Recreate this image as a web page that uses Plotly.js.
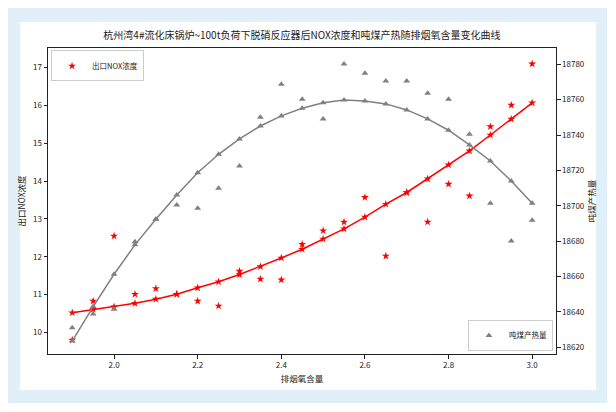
<!DOCTYPE html>
<html>
<head>
<meta charset="utf-8">
<script src="https://cdn.plot.ly/plotly-3.0.1.min.js"></script>
<style>
  html, body { margin: 0; padding: 0; background: #ffffff; }
  #frame { position: absolute; left: 8px; top: 8px; width: 599px; height: 395px; background: #e1f0f8; }
  #card { position: absolute; left: 20px; top: 22px; width: 576px; height: 368px; background: #ffffff; }
  #chart { position: absolute; left: 0; top: 0; width: 616px; height: 412px; }
</style>
</head>
<body>
<div id="frame"></div>
<div id="card"></div>
<div id="chart"></div>
<script>
  // 排烟氧含量
  const oxygen = [1.9, 1.95, 2.0, 2.05, 2.1, 2.15, 2.2, 2.25, 2.3, 2.35, 2.4, 2.45,
    2.5, 2.55, 2.6, 2.65, 2.7, 2.75, 2.8, 2.85, 2.9, 2.95, 3.0];

  // 出口NOX浓度 实测 / 拟合
  const noxRaw = [9.80, 10.83, 12.55, 11.01, 11.16, 11.01, 10.83, 10.70, 11.62, 11.41, 11.39, 12.33,
    12.69, 12.92, 13.57, 12.02, 13.70, 12.92, 13.92, 13.61, 15.44, 16.01, 17.10];
  const noxFit = [10.52, 10.61, 10.68, 10.77, 10.88, 11.01, 11.18, 11.34, 11.53, 11.74, 11.97, 12.20,
    12.47, 12.74, 13.05, 13.39, 13.70, 14.06, 14.43, 14.80, 15.22, 15.64, 16.07];

  // 吨煤产热量 实测 / 拟合
  const heatRaw = [18631.1, 18638.8, 18641.5, 18679.7, 18692.4, 18700.5, 18698.6, 18709.9, 18722.5,
    18750.0, 18768.7, 18760.2, 18749.1, 18780.2, 18774.9, 18770.6, 18770.6, 18763.6, 18760.2,
    18740.4, 18701.4, 18680.1, 18691.8];
  const heatFit = [18623.5, 18643.0, 18661.3, 18677.9, 18692.4, 18706.1, 18718.7, 18729.1, 18737.8,
    18745.1, 18750.8, 18755.1, 18758.3, 18759.8, 18759.3, 18757.6, 18754.2, 18749.1, 18742.7,
    18734.4, 18725.3, 18714.0, 18701.4];

  const xTicks = [2.0, 2.2, 2.4, 2.6, 2.8, 3.0];
  const noxTicks = [10, 11, 12, 13, 14, 15, 16, 17];
  const heatTicks = [18620, 18640, 18660, 18680, 18700, 18720, 18740, 18760, 18780];

  const COLORS = {
    nox: '#ff0000',
    heat: '#808080',
    spine: '#222222',
    text: '#222222'
  };
  const FONT = 'Noto Sans CJK SC, DejaVu Sans, sans-serif';

  const traces = [
    {
      x: oxygen,
      y: heatFit,
      yaxis: 'y2',
      mode: 'lines+markers',
      line: { color: COLORS.heat, width: 1.5 },
      marker: { symbol: 'triangle-up', size: 6, color: COLORS.heat },
      showlegend: false,
      hoverinfo: 'x+y'
    },
    {
      x: oxygen,
      y: heatRaw,
      yaxis: 'y2',
      name: '吨煤产热量',
      mode: 'markers',
      marker: { symbol: 'triangle-up', size: 6, color: COLORS.heat },
      legend: 'legend2'
    },
    {
      x: oxygen,
      y: noxFit,
      mode: 'lines+markers',
      line: { color: COLORS.nox, width: 1.5 },
      marker: { symbol: 'star', size: 6, color: COLORS.nox },
      showlegend: false,
      hoverinfo: 'x+y'
    },
    {
      x: oxygen,
      y: noxRaw,
      name: '出口NOX浓度',
      mode: 'markers',
      marker: { symbol: 'star', size: 6, color: COLORS.nox },
      legend: 'legend'
    }
  ];

  const tickFont = { family: FONT, size: 8, color: COLORS.text };
  const titleFont = { family: FONT, size: 8.5, color: COLORS.text };
  const legendFont = { family: FONT, size: 7.5, color: COLORS.text };

  const layout = {
    width: 616,
    height: 412,
    margin: { l: 48, r: 60, t: 48, b: 58 },
    paper_bgcolor: 'rgba(0,0,0,0)',
    plot_bgcolor: '#ffffff',
    font: { family: FONT, size: 9, color: COLORS.text },
    title: {
      text: '杭州湾4#流化床锅炉~100t负荷下脱硝反应器后NOX浓度和吨煤产热随排烟氧含量变化曲线',
      font: { family: FONT, size: 10, color: COLORS.text },
      x: 0.5,
      xref: 'paper',
      y: 1 - 35 / 412,
      yref: 'container',
      yanchor: 'middle'
    },
    xaxis: {
      range: [1.842, 3.057],
      tickvals: xTicks,
      tickformat: '.1f',
      ticks: 'outside',
      ticklen: 3.5,
      tickcolor: COLORS.spine,
      showgrid: false,
      zeroline: false,
      showline: true,
      mirror: true,
      linecolor: COLORS.spine,
      linewidth: 1,
      tickfont: tickFont,
      title: { text: '排烟氧含量', font: titleFont, standoff: 6 }
    },
    yaxis: {
      range: [9.43, 17.52],
      tickvals: noxTicks,
      ticks: 'outside',
      ticklen: 3.5,
      tickcolor: COLORS.spine,
      showgrid: false,
      zeroline: false,
      showline: true,
      linecolor: COLORS.spine,
      linewidth: 1,
      tickfont: tickFont,
      title: { text: '出口NOX浓度', font: titleFont, standoff: 6 }
    },
    yaxis2: {
      overlaying: 'y',
      side: 'right',
      range: [18616.2, 18789.2],
      tickvals: heatTicks,
      tickformat: 'd',
      ticks: 'outside',
      ticklen: 3.5,
      tickcolor: COLORS.spine,
      showgrid: false,
      zeroline: false,
      showline: true,
      linecolor: COLORS.spine,
      linewidth: 1,
      tickfont: tickFont,
      title: { text: '吨煤产热量', font: titleFont, standoff: 4 }
    },
    legend: {
      x: 0.006,
      y: 0.992,
      xanchor: 'left',
      yanchor: 'top',
      itemwidth: 30,
      bgcolor: 'rgba(255,255,255,0.85)',
      bordercolor: '#cccccc',
      borderwidth: 1,
      font: legendFont
    },
    legend2: {
      x: 0.994,
      y: 0.01,
      xanchor: 'right',
      yanchor: 'bottom',
      itemwidth: 30,
      bgcolor: 'rgba(255,255,255,0.85)',
      bordercolor: '#cccccc',
      borderwidth: 1,
      font: legendFont
    }
  };

  const config = { displayModeBar: false, responsive: false };

  Plotly.newPlot('chart', traces, layout, config);
</script>
</body>
</html>
